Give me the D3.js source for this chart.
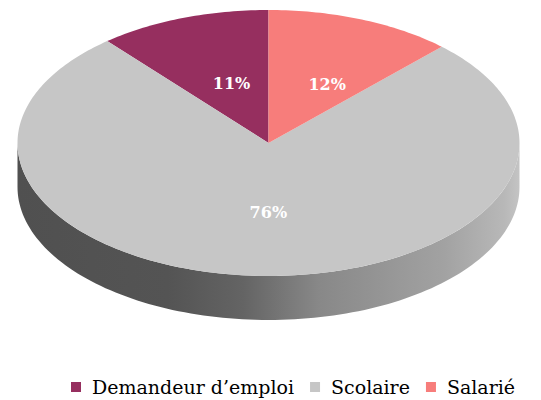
<!DOCTYPE html>
<html>
<head>
<meta charset="utf-8">
<script src="https://cdn.jsdelivr.net/npm/d3@7"></script>
<style>
  html, body { margin: 0; padding: 0; background: #ffffff; }
  svg { display: block; }
</style>
</head>
<body>
<svg id="chart" width="541" height="400"></svg>
<script>
// Répartition par statut
const categories = ["Demandeur d’emploi", "Scolaire", "Salarié"];
const values = [11, 76, 12];
const labels = ["11%", "76%", "12%"];
const colors = ["#962f5f", "#c6c6c6", "#f77d7b"];

const W = 541, H = 400;
const cx = 268.5, cy = 143, rx = 251, ry = 133, depth = 44;

const svg = d3.select("#chart");

// Ellipse projection of the tilted disc
const xs = d3.scaleLinear().domain([-1, 1]).range([cx - rx, cx + rx]);
const ys = d3.scaleLinear().domain([-1, 1]).range([cy - ry, cy + ry]);
const pt = (a, r = 1, dy = 0) => [xs(r * Math.sin(a)), ys(-r * Math.cos(a)) + dy];

// Slices run counter-clockwise from 12 o'clock
const pie = d3.pie().sort(null).value(d => d).startAngle(0).endAngle(-2 * Math.PI);
const arcs = pie(values);

const line = d3.line();
const defs = svg.append("defs");

// Side wall gradient (dark on the left, lighter towards the right)
const grad = defs.append("linearGradient")
  .attr("id", "side").attr("gradientUnits", "userSpaceOnUse")
  .attr("x1", cx - rx).attr("x2", cx + rx).attr("y1", 0).attr("y2", 0);
[[0, "#505050"], [0.3, "#545454"], [0.45, "#646464"], [0.6, "#888888"], [0.85, "#a2a2a2"], [0.97, "#b8b8b8"], [1, "#c4c4c4"]]
  .forEach(([o, c]) => grad.append("stop").attr("offset", o).attr("stop-color", c));

// Front wall: visible half of the rim
const N = 120;
const front = d3.range(N + 1).map(i => Math.PI / 2 + Math.PI * i / N);
const wallPts = front.map(a => pt(a)).concat(front.slice().reverse().map(a => pt(a, 1, depth)));
svg.append("path")
  .attr("d", line(wallPts) + "Z")
  .attr("fill", "url(#side)");

// Top faces
arcs.forEach((d, i) => {
  const a0 = Math.min(d.startAngle, d.endAngle), a1 = Math.max(d.startAngle, d.endAngle);
  const n = Math.max(8, Math.ceil((a1 - a0) / (Math.PI / 180)));
  const pts = [[cx, cy]].concat(d3.range(n + 1).map(k => pt(a0 + (a1 - a0) * k / n)));
  svg.append("path")
    .attr("d", line(pts) + "Z")
    .attr("fill", colors[i]);
});

// Percentage labels, placed inside each slice
const labelR = [0.5, 0.52, 0.5];
const labelShift = [[6, 3], [4, 0], [12, 3]];
arcs.forEach((d, i) => {
  const mid = (d.startAngle + d.endAngle) / 2;
  const [x, y] = pt(mid, labelR[i]);
  svg.append("text")
    .attr("x", x + labelShift[i][0]).attr("y", y + labelShift[i][1])
    .attr("text-anchor", "middle")
    .attr("dominant-baseline", "central")
    .attr("font-family", "'DejaVu Serif', serif")
    .attr("font-weight", "bold")
    .attr("font-size", 16)
    .attr("fill", "#ffffff")
    .text(labels[i]);
});

// Legend
const legend = svg.append("g").attr("transform", "translate(71,382)");
let x = 0;
categories.forEach((c, i) => {
  const g = legend.append("g").attr("transform", `translate(${x},0)`);
  g.append("rect").attr("width", 10).attr("height", 10).attr("fill", colors[i]);
  const t = g.append("text")
    .attr("x", 21).attr("y", 12)
    .attr("font-family", "'DejaVu Serif', serif")
    .attr("font-size", 19)
    .attr("fill", "#000000")
    .text(c);
  x += 21 + t.node().getComputedTextLength() + 16;
});
</script>
</body>
</html>
